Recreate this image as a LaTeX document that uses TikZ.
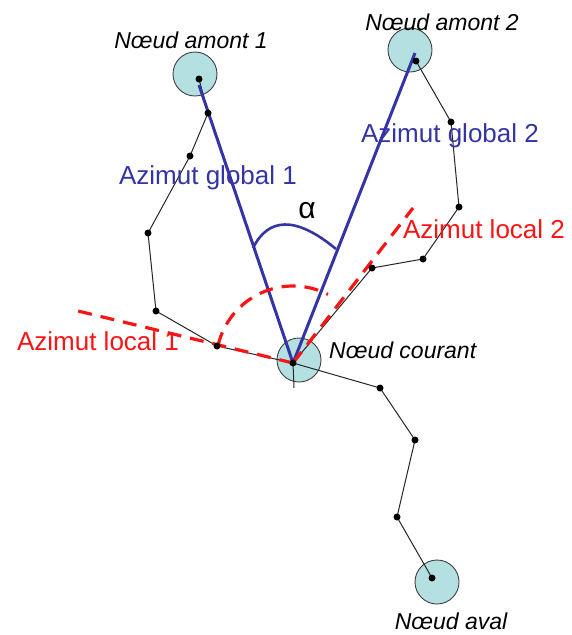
\documentclass[tikz,border=0pt]{standalone}
\usepackage{fontspec}
\setmainfont{Liberation Sans}
\usepackage{tikz}

\definecolor{nodefill}{RGB}{180,224,226}
\definecolor{azblue}{RGB}{52,52,165}
\definecolor{azred}{RGB}{250,20,20}

\begin{document}
\begin{tikzpicture}[x=1pt, y=-1pt,
  % junction nodes of the network
  netnode/.style={circle, draw=black!75, fill=nodefill, line width=0.9pt,
                  minimum size=44pt, inner sep=0pt},
  % vertices of the polylines
  vertex/.style={circle, fill=black, inner sep=0pt, minimum size=7pt},
  reach/.style={draw=black!85, line width=1pt},
  globalaz/.style={draw=azblue, line width=3pt},
  localaz/.style={draw=azred, line width=3.2pt, dash pattern=on 14pt off 9pt},
  nodelabel/.style={font=\fontsize{23}{27}\selectfont\itshape, inner sep=0pt},
  bluelabel/.style={text=azblue, font=\fontsize{26}{30}\selectfont, inner sep=0pt},
  redlabel/.style={text=azred, font=\fontsize{26}{30}\selectfont, inner sep=0pt}
]
  \useasboundingbox (0,0) rectangle (571,635);

  % Network nodes
  \node[netnode] (am1)  at (195,74)  {};
  \node[netnode] (am2)  at (410,50)  {};
  \node[netnode] (cour) at (299,360) {};
  \node[netnode] (aval) at (437,582) {};

  % Points on the reaches
  \coordinate (p1) at (199,79);
  \coordinate (p2) at (416,61);
  \coordinate (pc) at (293,363);
  \coordinate (pa) at (432,578);

  \coordinate (v1a) at (208,113);
  \coordinate (v1b) at (190,156);
  \coordinate (v1c) at (148,233);
  \coordinate (v1d) at (156,311);
  \coordinate (v1e) at (217,346);

  \coordinate (v2a) at (451,122);
  \coordinate (v2b) at (459,207);
  \coordinate (v2c) at (423,259);
  \coordinate (v2d) at (372,268);

  \coordinate (d1) at (380,388);
  \coordinate (d2) at (415,440);
  \coordinate (d3) at (397,517);

  % Reaches (thin black polylines)
  \draw[reach] (p1) -- (v1a) -- (v1b) -- (v1c) -- (v1d) -- (v1e) -- (pc);
  \draw[reach] (p2) -- (v2a) -- (v2b) -- (v2c) -- (v2d) -- (pc);
  \draw[reach] (pc) -- (d1) -- (d2) -- (d3) -- (pa);
  \coordinate (tick) at (294,388);
  \draw[reach] (pc) -- (tick);

  % Global azimuths
  \coordinate (g1) at (199,85);
  \coordinate (g2) at (415,53);
  \draw[globalaz] (pc) -- (g1);
  \draw[globalaz] (pc) -- (g2);
  \coordinate (a1) at (253,248);
  \coordinate (a2) at (336,249);
  \draw[draw=azblue, line width=2.6pt] (a1) .. controls (268,218) and (295,215) .. (a2);

  % Local azimuths (dashed)
  \coordinate (l1) at (78,311);
  \coordinate (l2) at (413,208);
  \draw[localaz] (pc) -- (l1);
  \draw[localaz] (pc) -- (l2);
  \draw[localaz] (pc) ++(-167:77) arc[start angle=-167, end angle=-63, radius=77];

  % Vertices
  \foreach \v in {p1,p2,pc,pa,v1a,v1b,v1c,v1d,v1e,v2a,v2b,v2c,v2d,d1,d2,d3}
    \node[vertex] at (\v) {};

  % Labels
  \node[nodelabel] (lam1)  at (191,40)  {Nœud amont 1};
  \node[nodelabel] (lam2)  at (442,22)  {Nœud amont 2};
  \node[nodelabel, anchor=west] (lcour) at (329,350) {Nœud courant};
  \node[nodelabel] (laval) at (451,621) {Nœud aval};

  \node[bluelabel] (lg1) at (208,178) {Azimut global 1};
  \node[bluelabel] (lg2) at (450,136) {Azimut global 2};
  \node[redlabel]  (ll1) at (98,341)  {Azimut local 1};
  \node[redlabel]  (ll2) at (484,229) {Azimut local 2};

  \node[font=\fontsize{30}{34}\selectfont, inner sep=0pt] (alpha) at (307,211) {α};
\end{tikzpicture}
\end{document}
